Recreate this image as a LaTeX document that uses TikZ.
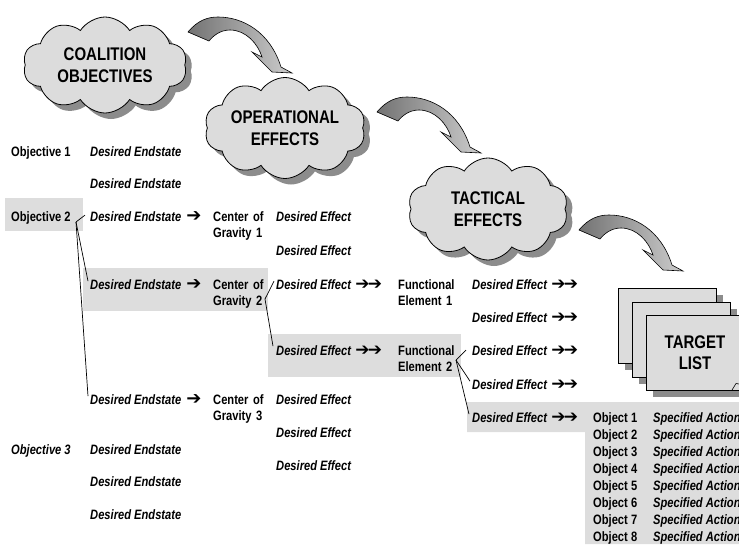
\documentclass[tikz,border=0pt]{standalone}
\usepackage{fontspec}
\setmainfont[FakeStretch=0.82]{Liberation Sans}
\newfontfamily\arrfont{DejaVu Sans}
\usetikzlibrary{shapes.symbols,shadows,calc}
\definecolor{bandgray}{HTML}{DDDDDD}
\definecolor{cloudgray}{HTML}{DCDCDC}
\definecolor{shadegray}{HTML}{8C8C8C}
\newcommand\onearr{\hspace{5pt}{\arrfont\bfseries\upshape\fontsize{18}{18}\selectfont ➔}}
\newcommand\twoarr{\hspace{4.5pt}{\arrfont\bfseries\upshape\fontsize{17}{17}\selectfont ➔\kern-2pt➔}}
\tikzset{
  lbl/.style={inner sep=0pt, anchor=base west, font=\fontsize{13.6}{16}\selectfont\bfseries},
  ilbl/.style={lbl, font=\fontsize{13.6}{16}\selectfont\bfseries\itshape},
  twoline/.style={text width=62pt, align=left},
  conn/.style={draw, line width=0.7pt},
  cloudbox/.style={cloud, cloud puffs=10, cloud puff arc=115, cloud ignores aspect,
    draw, line width=0.8pt, fill=cloudgray, inner sep=0pt, align=center,
    font=\fontsize{18.3}{21.5}\selectfont\bfseries,
    drop shadow={shadow xshift=6pt, shadow yshift=-6pt, fill=shadegray, opacity=1}},
  tlpage/.style={draw, line width=0.7pt, fill=cloudgray, minimum width=98pt,
    minimum height=75pt, inner sep=0pt, align=center,
    font=\fontsize{18.3}{21.5}\selectfont\bfseries,
    drop shadow={shadow xshift=7pt, shadow yshift=-7pt, fill=shadegray, opacity=1}},
  bentarrow/.pic={
    \path[draw, line width=0.6pt, left color=black!55, right color=black!20]
      (0,0) .. controls (10,-12) and (20,-15) .. (30,-15)
      .. controls (55,-15) and (82,0) .. (93,35)
      -- (104,41) -- (84,40) -- (64,20) -- (74,25)
      .. controls (70,12) and (58,-2) .. (42,-2)
      .. controls (32,-2) and (25,4) .. (21,9) -- cycle;
  }
}
\begin{document}
\begin{tikzpicture}[x=1pt,y=-1pt]
\useasboundingbox (0,0) rectangle (739,544);
\clip (0,0) rectangle (739,544);
% highlight bands
\fill[bandgray] (5,198) rectangle (83,231);
\fill[bandgray] (83,268) rectangle (268,311);
\fill[bandgray] (268,334) rectangle (461,377);
\fill[bandgray] (467,402) -- (739,402) -- (739,544) -- (585,544) -- (585,432) -- (467,432) -- cycle;
% clouds
\node[cloudbox, minimum width=164pt, minimum height=96pt] (coal) at (105,65) {COALITION\\OBJECTIVES};
\node[cloudbox, minimum width=161pt, minimum height=101pt] (oper) at (285,128) {OPERATIONAL\\EFFECTS};
\node[cloudbox, minimum width=160pt, minimum height=102pt] (tact) at (488,209) {TACTICAL\\EFFECTS};
% bent arrows
\pic at (188,32) {bentarrow};
\pic at (377,112) {bentarrow};
\pic at (579,230) {bentarrow};
% target list
\node[tlpage] (tl1) at (667,325.5) {};
\node[tlpage] (tl2) at (681,339.5) {};
\node[tlpage] (tl3) at (695,352.5) {TARGET\\LIST};
\draw[line width=0.6pt] (732,390) -- (736,383.5) -- (739,384);
% column labels
\node[lbl] (ob1) at (11,156) {Objective 1};
\node[ilbl] (de1a) at (90,156) {Desired Endstate};
\node[ilbl] (de1b) at (90,188) {Desired Endstate};
\node[lbl] (ob2) at (11,221.5) {Objective 2};
\node[ilbl] (de2a) at (90,221.5) {Desired Endstate\onearr};
\node[lbl,twoline] (cog1) at (213,221.5) {Center of\\Gravity 1};
\node[ilbl] (ef1a) at (276,221.5) {Desired Effect};
\node[ilbl] (ef1b) at (276,255) {Desired Effect};
\node[ilbl] (de2b) at (90,289) {Desired Endstate\onearr};
\node[lbl,twoline] (cog2) at (213,289) {Center of\\Gravity 2};
\node[ilbl] (ef2a) at (276,289) {Desired Effect\twoarr};
\node[lbl,twoline] (fe1) at (398,289) {Functional\\Element 1};
\node[ilbl] (t1) at (472,289) {Desired Effect\twoarr};
\node[ilbl] (t2) at (472,322) {Desired Effect\twoarr};
\node[ilbl] (ef2b) at (276,355) {Desired Effect\twoarr};
\node[lbl,twoline] (fe2) at (398,355) {Functional\\Element 2};
\node[ilbl] (t3) at (472,355) {Desired Effect\twoarr};
\node[ilbl] (t4) at (472,389) {Desired Effect\twoarr};
\node[ilbl] (de2c) at (90,404) {Desired Endstate\onearr};
\node[lbl,twoline] (cog3) at (213,404) {Center of\\Gravity 3};
\node[ilbl] (ef3a) at (276,404) {Desired Effect};
\node[ilbl] (ef3b) at (276,437) {Desired Effect};
\node[ilbl] (ef3c) at (276,470) {Desired Effect};
\node[ilbl] (t5) at (472,422) {Desired Effect\twoarr};
\node[ilbl] (ob3) at (11,454) {Objective 3};
\node[ilbl] (de3a) at (90,454) {Desired Endstate};
\node[ilbl] (de3b) at (90,486) {Desired Endstate};
\node[ilbl] (de3c) at (90,519) {Desired Endstate};
\foreach \k in {1,...,8}{
  \node[lbl] (obj\k) at (593,{422+17*(\k-1)}) {Object \k};
  \node[ilbl] (act\k) at (653,{422+17*(\k-1)}) {Specified Action};
}
% connectors
\coordinate (o2root) at (76,222);
\coordinate (o2a) at ($(de2a.west)+(-5,-1.5)$);
\coordinate (o2b) at ($(de2b.west)+(-2,-3)$);
\coordinate (o2c) at ($(de2c.west)+(-2,-3)$);
\draw[conn] (o2root) -- (o2a);
\draw[conn] (o2root) -- (o2b);
\draw[conn] (o2root) -- (o2c);
\coordinate (c2root) at (265,299);
\coordinate (c2a) at ($(ef2a.west)+(-2,-3)$);
\coordinate (c2b) at ($(ef2b.west)+(-3,-4)$);
\draw[conn] (c2root) -- (c2a);
\draw[conn] (c2root) -- (c2b);
\coordinate (f2root) at (456,360);
\coordinate (f2a) at ($(t3.west)+(-6,0)$);
\coordinate (f2b) at ($(t4.west)+(-2,-3)$);
\coordinate (f2c) at ($(t5.west)+(-3,-3)$);
\draw[conn] (f2root) -- (f2a);
\draw[conn] (f2root) -- (f2b);
\draw[conn] (f2root) -- (f2c);
\end{tikzpicture}
\end{document}
